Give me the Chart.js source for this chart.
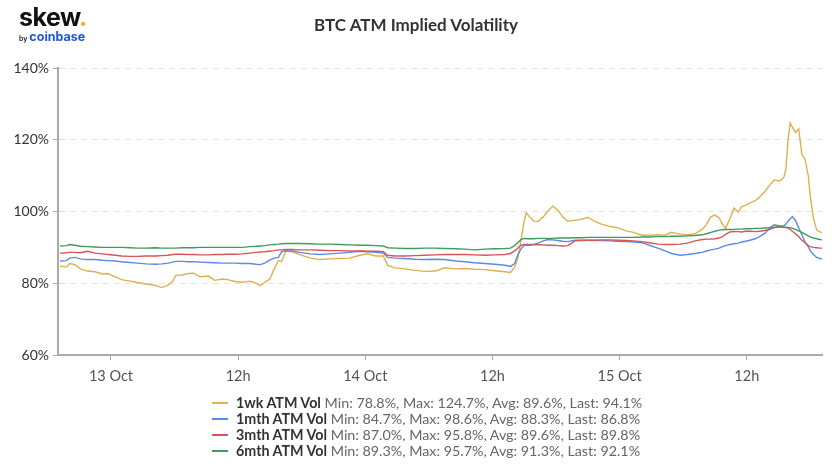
<!DOCTYPE html>
<html lang="en">
<head>
  <meta charset="UTF-8" />
  <title>BTC ATM Implied Volatility</title>
  <script src="https://cdn.jsdelivr.net/npm/chart.js"></script>
  <style>
    body {
      margin: 0;
      background: #fff;
      font-family: Lato, 'Open Sans', sans-serif;
    }

    .wrap {
      position: relative;
      width: 832px;
      height: 466px;
      overflow: hidden;
    }

    #volChart {
      position: absolute;
      left: 0;
      top: 0;
    }

    .logo {
      position: absolute;
      left: 19px;
      top: 5px;
      line-height: 1;
    }

    .logo .skew {
      font-family: Inter, sans-serif;
      font-weight: 700;
      font-size: 25px;
      letter-spacing: -0.5px;
      color: #111;
    }

    .logo .skew span { color: #e6b43c; }

    .logo .by {
      margin-top: 1px;
      font-family: Inter, sans-serif;
      font-size: 12.5px;
      font-weight: 700;
      color: #1b55e2;
    }

    .logo .by small {
      font-size: 7px;
      color: #222;
      font-weight: 600;
      margin-right: 2px;
    }

    .title {
      position: absolute;
      left: 0;
      width: 832px;
      top: 14px;
      text-align: center;
      font-size: 17px;
      font-weight: 700;
      color: #333;
    }

    .legend {
      position: absolute;
      left: 212px;
      top: 395px;
      font-size: 14.3px;
      line-height: 16px;
      color: #666;
    }

    .legend .row { white-space: nowrap; }

    .legend i {
      display: inline-block;
      width: 16px;
      height: 2px;
      vertical-align: middle;
      margin: 0 8px 2px 0;
    }

    .legend b { color: #333; }
  </style>
</head>
<body>

  <div class="wrap">
    <canvas id="volChart" width="832" height="466"></canvas>
    <div class="logo">
      <div class="skew">skew<span>.</span></div>
      <div class="by"><small>by</small>coinbase</div>
    </div>
    <div class="title">BTC ATM Implied Volatility</div>
    <div class="legend" id="legend"></div>
  </div>

  <script>
    // hours since 13 Oct 00:00
    const hours = [
      -4.8, -4.2, -3.9, -3.4, -2.9, -2.2, -1.5, -0.8, -0.3, 0.4, 1.0, 1.8, 2.5, 3.3, 4.2, 4.8,
      5.4, 5.8, 6.1, 6.7, 7.3, 7.8, 8.4, 9.2, 9.8, 10.5, 11.0, 11.7, 12.4, 13.1, 13.7, 14.1,
      14.5, 15.0, 15.4, 15.8, 16.1, 16.5, 17.1, 17.8, 18.8, 19.7, 20.7, 21.6, 22.5, 23.5,
      24.2, 25.0, 25.7, 26.1, 26.8, 27.7, 28.7, 29.6, 30.6, 31.5, 32.5, 33.4, 34.3, 35.3,
      36.2, 37.2, 37.7, 38.1, 38.4, 38.7, 39.0, 39.2, 39.5, 39.9, 40.3, 40.8, 41.2, 41.7,
      42.2, 42.6, 43.1, 43.8, 44.4, 45.0, 45.7, 46.3, 47.1, 47.8, 48.6, 49.3, 50.1, 50.8,
      51.6, 52.3, 52.9, 53.7, 54.4, 55.1, 55.8, 56.2, 56.6, 57.0, 57.4, 57.7, 58.0, 58.4,
      58.8, 59.2, 59.5, 59.9, 60.3, 60.8, 61.2, 61.7, 62.2, 62.6, 63.1, 63.5, 63.7, 63.9,
      64.1, 64.3, 64.6, 64.9, 65.2, 65.5, 65.8, 66.0, 66.3, 66.6, 66.9, 67.1
    ];

    const vol1wk = [
      84.8, 84.5, 85.5, 85.2, 84.0, 83.4, 83.2, 82.6, 82.7, 81.8, 81.0, 80.6, 80.2, 79.8, 79.4, 78.8,
      79.5, 80.5, 82.2, 82.3, 82.7, 82.8, 81.8, 82.0, 80.8, 81.2, 81.0, 80.5, 80.3, 80.6, 80.0, 79.3,
      80.2, 81.2, 84.0, 86.3, 86.0, 89.0, 88.8, 88.0, 87.0, 86.6, 86.8, 86.9, 87.0, 87.8,
      88.2, 87.6, 87.6, 85.0, 84.3, 84.0, 83.6, 83.3, 83.4, 84.3, 84.0, 84.1, 83.9, 83.8,
      83.5, 83.2, 83.0, 84.5, 87.0, 92.0, 97.5, 99.7, 98.5, 97.3, 97.2, 98.5, 100.0, 101.5,
      100.3, 98.6, 97.3, 97.6, 97.8, 98.4, 97.2, 96.5, 95.8, 95.5, 94.6, 94.2, 93.4, 93.4,
      93.5, 93.4, 94.2, 93.7, 93.5, 93.8, 95.0, 96.4, 98.5, 99.0, 98.2, 96.5, 95.3, 98.0,
      101.0, 99.8, 101.3, 101.8, 102.4, 103.0, 104.0, 105.5, 107.5, 108.8, 108.5, 109.5, 112.0, 120.0,
      124.7, 123.5, 122.0, 123.0, 116.0, 114.5, 110.0, 104.0, 98.0, 94.8, 94.3, 94.1
    ];

    const vol1mth = [
      86.2, 86.3, 87.0, 87.2, 86.8, 86.6, 86.6, 86.4, 86.3, 86.2, 86.0, 85.8, 85.6, 85.4, 85.3, 85.4,
      85.6, 85.9, 86.1, 86.1, 86.0, 86.0, 85.9, 85.8, 85.7, 85.6, 85.6, 85.6, 85.5, 85.5, 85.3, 85.2,
      85.6, 86.5, 87.0, 87.2, 88.8, 89.0, 89.0, 88.6, 88.2, 88.0, 88.2, 88.4, 88.6, 88.9,
      88.8, 88.6, 88.4, 87.2, 87.0, 86.9, 86.7, 86.6, 86.7, 86.6, 86.2, 86.0, 85.7, 85.5,
      85.3, 85.0, 84.7, 85.5, 88.0, 89.6, 90.6, 90.9, 90.8, 90.9, 91.2, 91.8, 92.2, 92.1,
      91.9, 91.7, 91.6, 92.0, 92.0, 92.0, 91.9, 91.9, 91.8, 91.7, 91.6, 91.5, 91.3, 90.6,
      89.8, 89.0, 88.3, 87.8, 88.0, 88.3, 88.6, 89.0, 89.3, 89.5, 89.8, 90.2, 90.5, 90.8,
      91.0, 91.2, 91.5, 91.7, 92.0, 92.4, 93.0, 93.9, 95.5, 96.3, 96.0, 96.0, 96.5, 97.3,
      98.0, 98.6, 97.5, 95.5, 93.5, 91.5, 90.2, 89.0, 88.0, 87.2, 86.9, 86.8
    ];

    const vol3mth = [
      88.4, 88.5, 88.6, 88.6, 88.5, 88.9, 88.4, 88.2, 88.0, 87.8, 87.6, 87.5, 87.5, 87.6, 87.6, 87.7,
      87.8, 88.0, 88.1, 88.1, 88.0, 88.0, 87.9, 87.9, 88.0, 88.0, 88.1, 88.1, 88.2, 88.4, 88.6, 88.7,
      88.8, 89.0, 89.1, 89.3, 89.3, 89.4, 89.4, 89.3, 89.3, 89.2, 89.1, 89.1, 89.0, 89.0,
      88.9, 88.9, 88.8, 87.8, 87.6, 87.6, 87.7, 87.8, 87.9, 88.0, 88.0, 88.0, 87.9, 87.8,
      87.9, 88.0, 88.3, 89.0, 89.8, 90.6, 90.8, 90.6, 90.6, 90.7, 90.8, 90.7, 90.6, 90.6,
      90.5, 90.4, 90.5, 91.8, 91.9, 92.0, 92.0, 92.1, 92.1, 92.0, 91.9, 91.8, 91.6, 91.3,
      90.9, 90.8, 90.8, 90.9, 91.2, 91.8, 92.2, 92.3, 92.3, 92.4, 92.6, 93.0, 93.6, 94.3,
      94.4, 94.4, 94.3, 94.5, 94.5, 94.4, 94.5, 94.7, 95.0, 95.5, 95.8, 95.6, 95.5, 95.4,
      95.0, 94.5, 93.8, 93.0, 92.0, 91.3, 90.5, 90.2, 90.0, 89.9, 89.8, 89.8
    ];

    const vol6mth = [
      90.4, 90.5, 90.8, 90.6, 90.3, 90.2, 90.1, 90.0, 90.0, 90.0, 90.0, 89.9, 89.8, 89.8, 89.9, 89.8,
      89.8, 89.8, 89.8, 89.9, 89.9, 89.9, 90.0, 90.0, 90.0, 90.0, 90.0, 90.0, 90.0, 90.2, 90.3, 90.4,
      90.5, 90.7, 90.8, 90.9, 91.0, 91.1, 91.1, 91.1, 91.0, 90.9, 90.9, 90.8, 90.7, 90.6,
      90.6, 90.5, 90.4, 89.9, 89.8, 89.7, 89.7, 89.8, 89.8, 89.7, 89.6, 89.5, 89.3, 89.5,
      89.6, 89.7, 89.8, 90.5, 91.3, 92.2, 92.5, 92.4, 92.4, 92.4, 92.5, 92.5, 92.5, 92.5,
      92.6, 92.6, 92.6, 92.7, 92.7, 92.8, 92.8, 92.8, 92.8, 92.8, 92.8, 92.8, 92.9, 92.9,
      93.0, 93.0, 93.1, 93.1, 93.2, 93.3, 93.5, 93.8, 94.2, 94.5, 94.8, 94.9, 95.0, 95.0,
      95.0, 95.1, 95.1, 95.2, 95.2, 95.3, 95.3, 95.4, 95.5, 95.6, 95.7, 95.6, 95.6, 95.5,
      95.5, 95.3, 95.0, 94.6, 94.2, 93.7, 93.2, 92.9, 92.6, 92.4, 92.2, 92.1
    ];

    const xTickValues = [0, 12, 24, 36, 48, 60];
    const xTickLabels = ['13 Oct', '12h', '14 Oct', '12h', '15 Oct', '12h'];
    const yTickValues = [60, 80, 100, 120, 140];

    const seriesNames = ['1wk ATM Vol', '1mth ATM Vol', '3mth ATM Vol', '6mth ATM Vol'];
    const seriesStats = [
      'Min: 78.8%, Max: 124.7%, Avg: 89.6%, Last: 94.1%',
      'Min: 84.7%, Max: 98.6%, Avg: 88.3%, Last: 86.8%',
      'Min: 87.0%, Max: 95.8%, Avg: 89.6%, Last: 89.8%',
      'Min: 89.3%, Max: 95.7%, Avg: 91.3%, Last: 92.1%'
    ];
    const seriesValues = [vol1wk, vol1mth, vol3mth, vol6mth];
    const seriesColors = ['#dfb04e', '#5d8ae3', '#d95456', '#3f9b5e'];

    function toPoints(values) {
      return values.map((v, i) => ({ x: hours[i], y: v }));
    }

    const legendEl = document.getElementById('legend');
    legendEl.innerHTML = seriesNames.map((name, i) =>
      `<div class="row"><i style="background:${seriesColors[i]}"></i><b>${name}</b> ${seriesStats[i]}</div>`
    ).join('');

    const ctx = document.getElementById('volChart').getContext('2d');

    const chart = new Chart(ctx, {
      type: 'line',
      data: {
        datasets: seriesNames.map((name, i) => ({
          label: name,
          data: toPoints(seriesValues[i]),
          borderColor: seriesColors[i],
          borderWidth: 1.4,
          pointRadius: 0,
          tension: 0,
          fill: false,
          order: 3 - i
        }))
      },
      options: {
        responsive: false,
        animation: false,
        layout: {
          padding: { top: 68, right: 10, bottom: 76, left: 0 }
        },
        scales: {
          x: {
            type: 'linear',
            min: -5,
            max: 67.1,
            afterFit: scale => { scale.height = 35; },
            afterBuildTicks: scale => {
              scale.ticks = xTickValues.map(v => ({ value: v }));
            },
            ticks: {
              color: '#555',
              font: { family: 'Lato', size: 14.5 },
              padding: 8,
              maxRotation: 0,
              callback: value => xTickLabels[xTickValues.indexOf(value)]
            },
            grid: {
              drawOnChartArea: false,
              tickLength: 5,
              tickColor: '#aaa'
            },
            border: { color: '#aaa', width: 2 }
          },
          y: {
            min: 60,
            max: 140,
            afterFit: scale => { scale.width = 58; },
            afterBuildTicks: scale => {
              scale.ticks = yTickValues.map(v => ({ value: v }));
            },
            ticks: {
              color: '#333',
              font: { family: 'Lato', size: 14 },
              padding: 4,
              callback: value => value + '%'
            },
            grid: {
              color: '#e2e2e2',
              tickBorderDash: [],
              tickLength: 5,
              tickColor: '#aaa'
            },
            border: { color: '#aaa', width: 2, dash: [6, 5] }
          }
        },
        plugins: {
          legend: { display: false },
          tooltip: { enabled: false }
        }
      }
    });
  </script>

</body>
</html>
